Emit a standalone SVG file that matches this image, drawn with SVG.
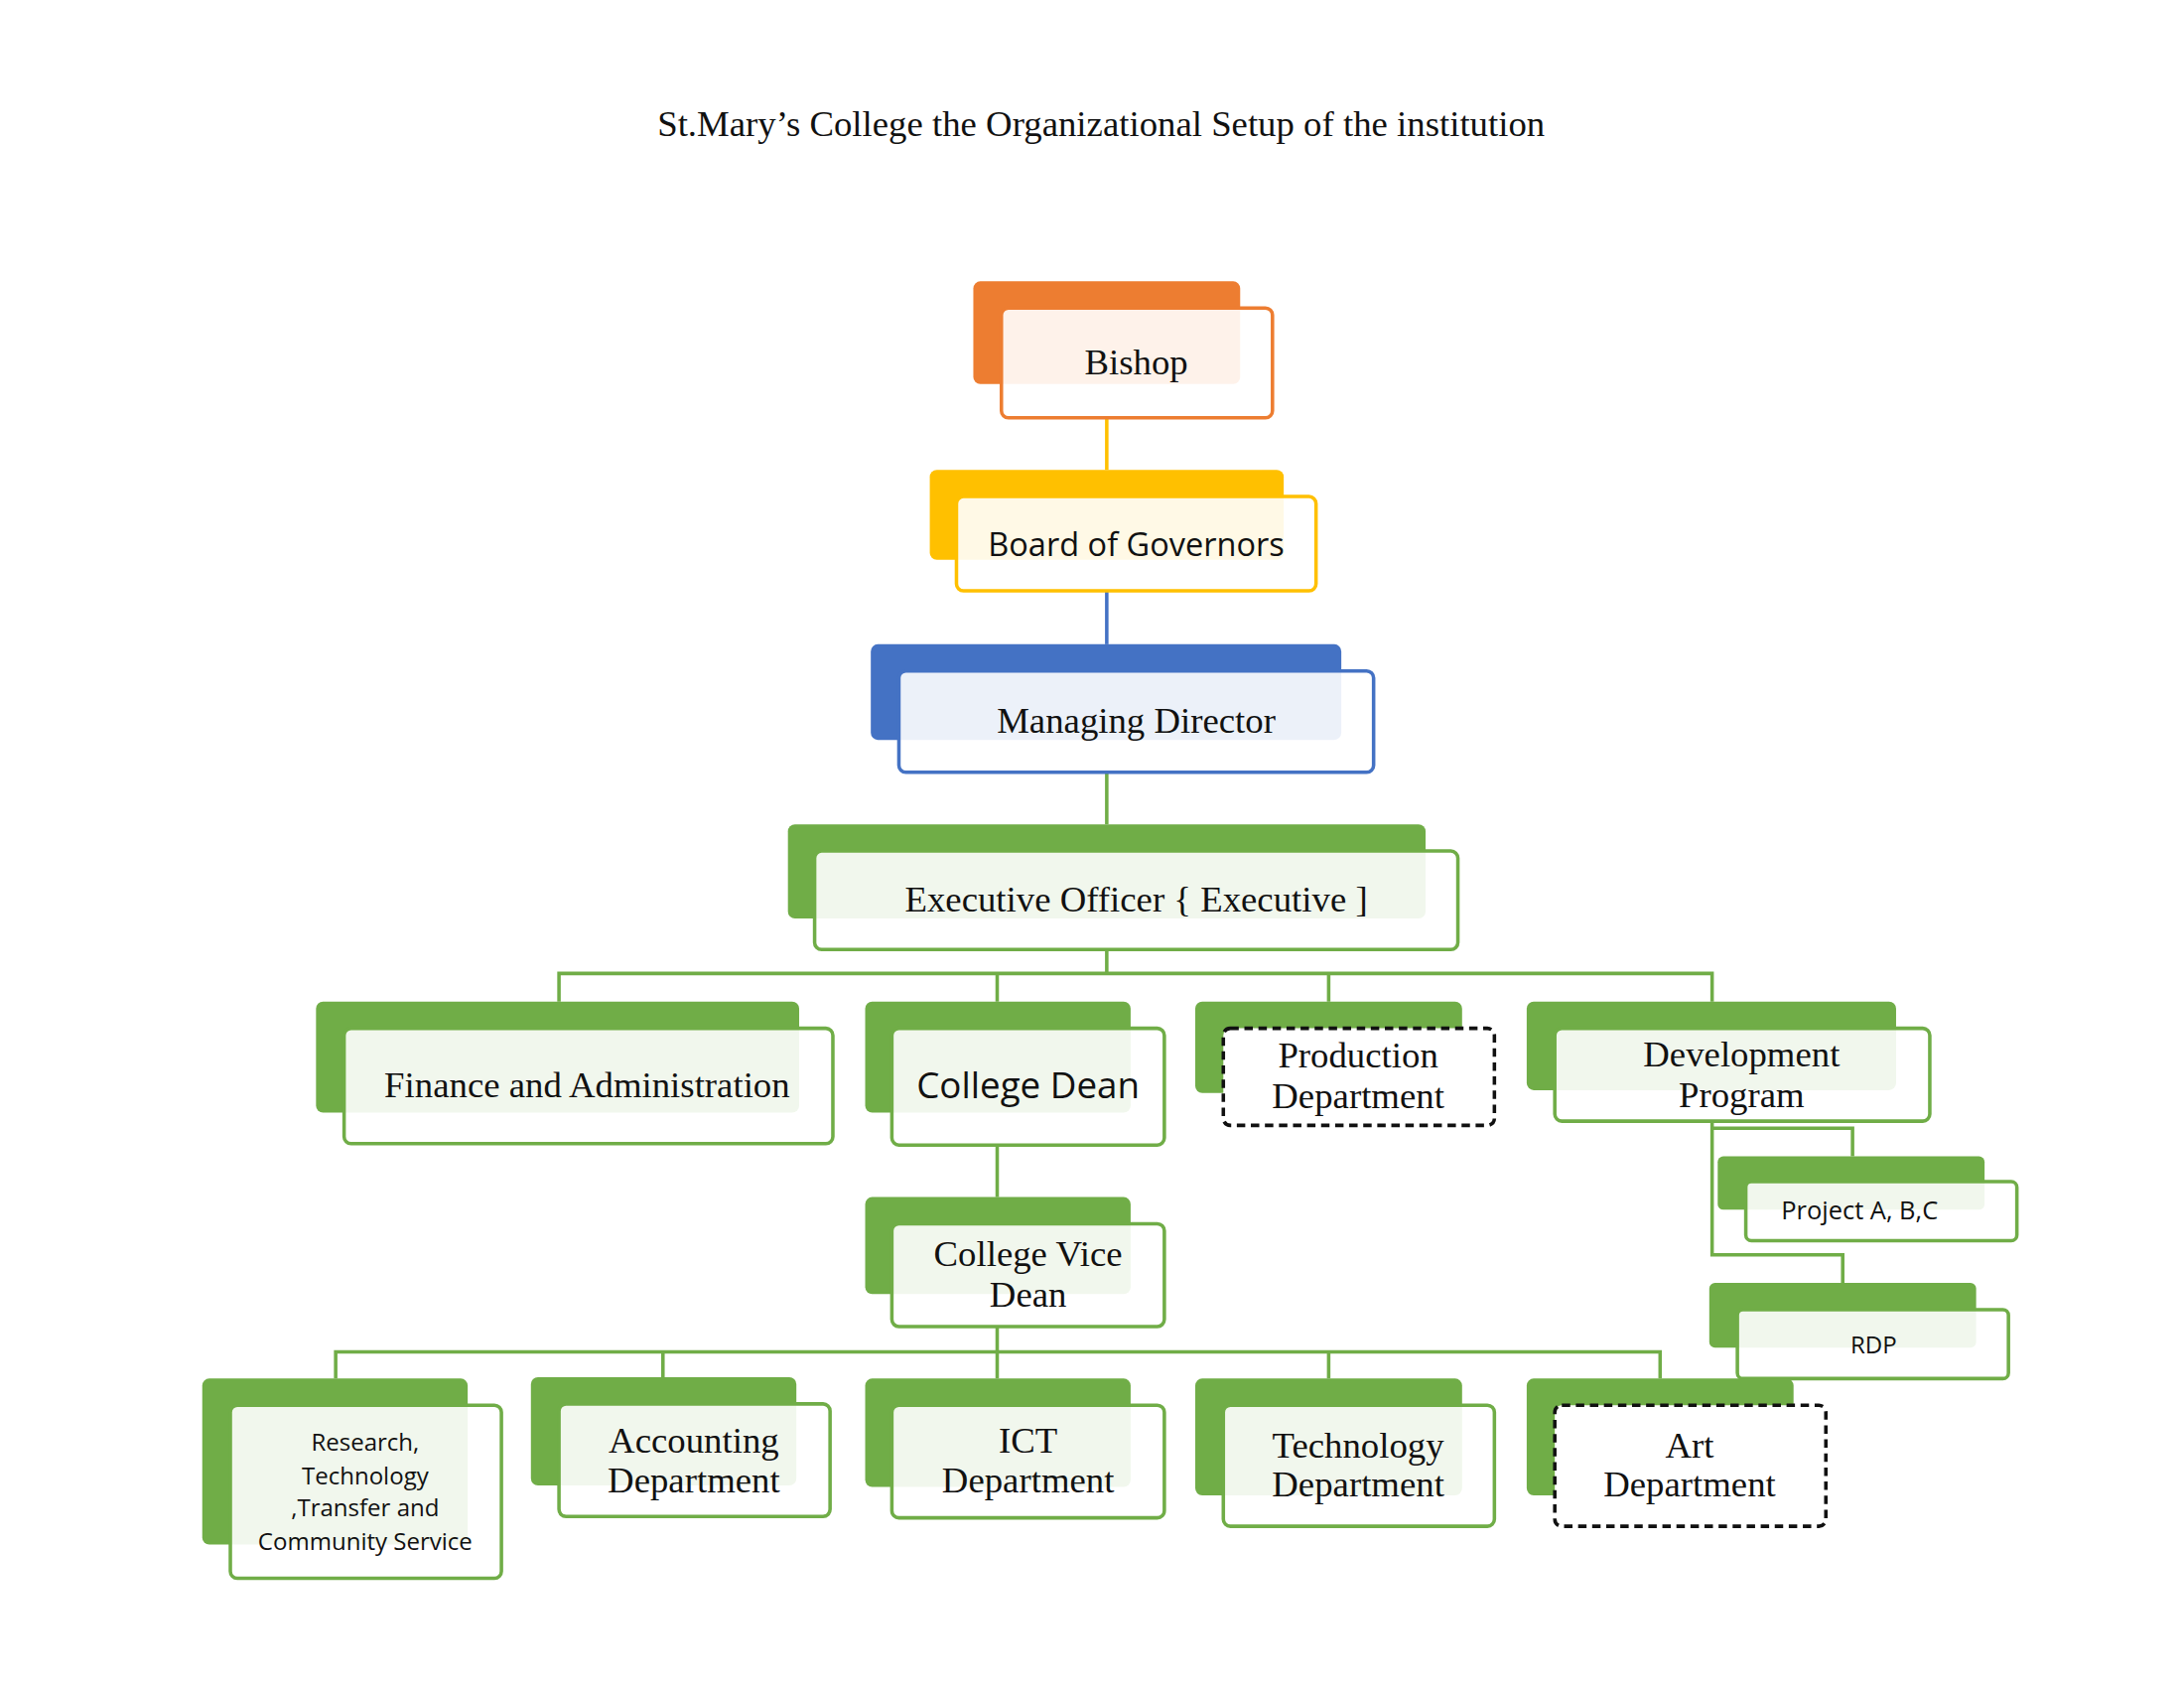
<svg xmlns="http://www.w3.org/2000/svg" width="2200" height="1700" viewBox="0 0 2200 1700">
<style>
.s{font-family:"Liberation Serif",serif;font-size:26px;text-anchor:middle;fill:#111}
.a{font-family:"Open Sans","Liberation Sans",sans-serif;text-anchor:middle;fill:#111}
.f{fill:#fff;fill-opacity:0.9;stroke-width:2.5}
.g{fill:#70ad47}
.gf{stroke:#70ad47}
.d{stroke:#111;stroke-dasharray:6 4;fill:#fff;stroke-width:2.5}
.c{fill:none;stroke:#70ad47;stroke-width:2.5}
</style>
<rect width="2200" height="1700" fill="#fff"/>
<g transform="scale(1.4148 1.4167)">
<text class="s" x="784" y="97">St.Mary’s College the Organizational Setup of the institution</text>
<g id="connectors">
<line x1="788" y1="297" x2="788" y2="334" stroke="#ffc000" stroke-width="2.5"/>
<line x1="788" y1="420" x2="788" y2="458" stroke="#4472c4" stroke-width="2.5"/>
<line class="c" x1="788" y1="549" x2="788" y2="586"/>
<path class="c" d="M788 675V692M398 712V692H1219V712M710 692V712M946 692V712"/>
<path class="c" d="M1219 797V892H1312V912M1219 802H1319V822"/>
<line class="c" x1="710" y1="814" x2="710" y2="851"/>
<path class="c" d="M710 943V961M239 980V961H1182V980M472 961V980M710 961V980M946 961V980"/>
</g>
<g id="bishop"><rect x="693" y="200" width="190" height="73" rx="5" fill="#ed7d31"/><rect class="f" x="713" y="219" width="193" height="78" rx="5" stroke="#ed7d31"/><text class="s" x="809" y="266">Bishop</text></g>
<g id="board"><rect x="662" y="334" width="252" height="64" rx="5" fill="#ffc000"/><rect class="f" x="681" y="353" width="256" height="67" rx="5" stroke="#ffc000"/><text class="a" x="809" y="395" font-size="23">Board of Governors</text></g>
<g id="md"><rect x="620" y="458" width="335" height="68" rx="5" fill="#4472c4"/><rect class="f" x="640" y="477" width="338" height="72" rx="5" stroke="#4472c4"/><text class="s" x="809" y="521">Managing Director</text></g>
<g id="eo"><rect class="g" x="561" y="586" width="454" height="67" rx="5"/><rect class="f gf" x="580" y="605" width="458" height="70" rx="5"/><text class="s" x="809" y="648">Executive Officer { Executive ]</text></g>
<g id="finance"><rect class="g" x="225" y="712" width="344" height="79" rx="5"/><rect class="f gf" x="245" y="731" width="348" height="82" rx="5"/><text class="s" x="418" y="780">Finance and Administration</text></g>
<g id="dean"><rect class="g" x="616" y="712" width="189" height="79" rx="5"/><rect class="f gf" x="635" y="731" width="194" height="83" rx="5"/><text class="a" x="732" y="781" font-size="26">College Dean</text></g>
<g id="production"><rect class="g" x="851" y="712" width="190" height="65" rx="5"/><rect class="d" x="871" y="731" width="193" height="69" rx="5"/><text class="s" x="967" y="759">Production</text><text class="s" x="967" y="788">Department</text></g>
<g id="development"><rect class="g" x="1087" y="712" width="263" height="63" rx="5"/><rect class="f gf" x="1107" y="731" width="267" height="66" rx="5"/><text class="s" x="1240" y="758">Development</text><text class="s" x="1240" y="787">Program</text></g>
<g id="project"><rect class="g" x="1223" y="822" width="190" height="38" rx="4"/><rect class="f gf" x="1243" y="840" width="193" height="42" rx="4"/><text class="a" x="1324" y="867" font-size="18">Project A, B,C</text></g>
<g id="rdp"><rect class="g" x="1217" y="912" width="190" height="46" rx="4"/><rect class="f gf" x="1237" y="931" width="193" height="49" rx="4"/><text class="a" x="1334" y="962" font-size="17">RDP</text></g>
<g id="vicedean"><rect class="g" x="616" y="851" width="189" height="69" rx="5"/><rect class="f gf" x="635" y="870" width="194" height="73" rx="5"/><text class="s" x="732" y="900">College Vice</text><text class="s" x="732" y="929">Dean</text></g>
<g id="research"><rect class="g" x="144" y="980" width="189" height="118" rx="5"/><rect class="f gf" x="164" y="999" width="193" height="123" rx="5"/><g class="a" font-size="17"><text x="260" y="1031">Research,</text><text x="260" y="1055">Technology</text><text x="260" y="1078">,Transfer and</text><text x="260" y="1102">Community Service</text></g></g>
<g id="accounting"><rect class="g" x="378" y="979" width="189" height="77" rx="5"/><rect class="f gf" x="398" y="998" width="193" height="80" rx="5"/><text class="s" x="494" y="1033">Accounting</text><text class="s" x="494" y="1061">Department</text></g>
<g id="ict"><rect class="g" x="616" y="980" width="189" height="77" rx="5"/><rect class="f gf" x="635" y="999" width="194" height="80" rx="5"/><text class="s" x="732" y="1033">ICT</text><text class="s" x="732" y="1061">Department</text></g>
<g id="technology"><rect class="g" x="851" y="980" width="190" height="83" rx="5"/><rect class="f gf" x="871" y="999" width="193" height="86" rx="5"/><text class="s" x="967" y="1036">Technology</text><text class="s" x="967" y="1064">Department</text></g>
<g id="art"><rect class="g" x="1087" y="980" width="190" height="83" rx="5"/><rect class="d" x="1107" y="999" width="193" height="86" rx="5"/><text class="s" x="1203" y="1036">Art</text><text class="s" x="1203" y="1064">Department</text></g>
</g>
</svg>
